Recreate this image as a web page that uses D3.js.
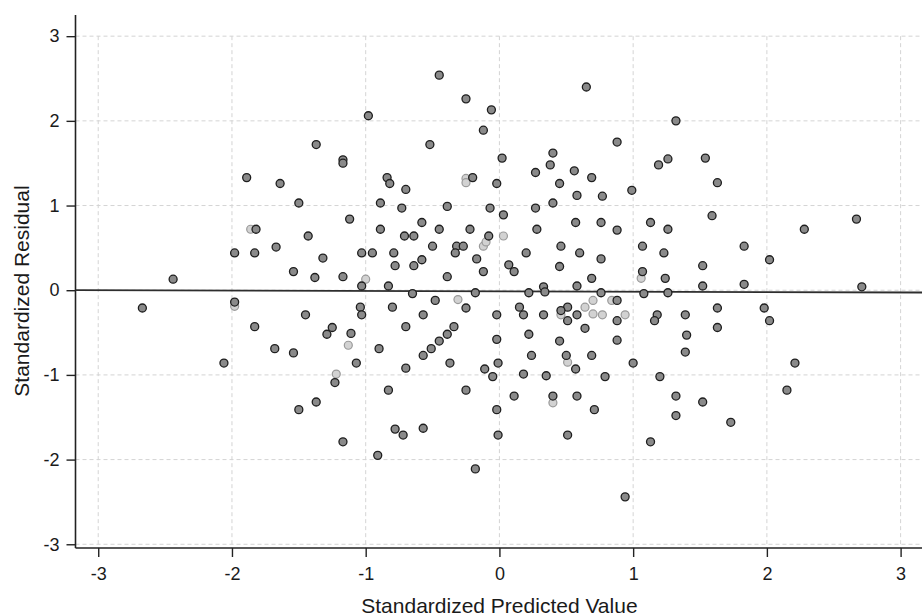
<!DOCTYPE html>
<html>
<head>
<meta charset="utf-8">
<script src="https://cdn.jsdelivr.net/npm/d3@7"></script>
<style>
  html, body { margin: 0; padding: 0; background: #fff; }
  #residualChart { width: 922px; height: 616px; }
  text { font-family: "Liberation Sans", Arial, sans-serif; fill: #1a1a1a; }
</style>
</head>
<body>
<div id="residualChart"></div>
<script>
// standardized predicted value / standardized residual
const predicted = [
    -1.89, -1.64, -1.50, -1.37, -1.17, -1.17, -0.98, -0.84, -0.82, -0.70,
    -0.89, -0.73, -0.52, -0.45, -0.39, -0.25, -0.06, -0.12, -0.20, 0.02,
    -0.02, -0.07, 0.27, 0.40, 0.38, 0.45, 0.56, 0.69, 0.58, 0.77,
    0.40, 0.27, 0.65, 0.88, 0.99, 1.19, 1.26, 1.32, 1.54, 1.63,
    -1.82, -1.98, -1.83, -1.67, -1.43, -1.54, -1.38, -2.44, -2.67, -1.98,
    -1.45, -1.83, -1.68, -1.54, -2.06, -1.37, -1.50, -1.12, -0.89, -0.58,
    -0.45, -0.22, -0.71, -0.64, -0.50, -0.32, -0.27, -0.33, -0.08, -0.17,
    0.03, 0.28, 0.57, 0.76, 0.88, 0.20, 0.46, 0.60, 0.76, 0.07,
    0.11, 0.45, 0.69, -1.03, -0.95, -0.79, -1.32, -0.78, -0.64, -0.58,
    -0.39, -0.12, -1.17, -1.03, -0.83, -0.65, -0.18, 0.22, 0.33, 0.34,
    0.58, 0.76, -0.48, -0.25, -1.04, -1.03, -0.80, -0.57, -0.02, 0.15,
    0.18, 0.33, 0.51, 0.58, 0.51, 0.88, 0.88, -1.25, -1.29, -1.11,
    -0.70, -0.34, -0.39, -0.45, -0.51, -0.57, -0.90, -1.07, -0.70, -0.37,
    -0.02, -0.01, 0.22, 0.45, 0.64, 0.88, 0.24, 0.50, 0.57, 0.69,
    -0.11, -0.05, 0.18, 0.35, 0.79, -1.23, -0.83, -0.25, 0.11, 0.40,
    0.58, -0.02, 0.71, 1.13, 1.26, 1.59, 1.07, 1.23, 1.83, 2.28,
    2.67, 2.02, 1.52, 1.07, 1.24, 1.52, 1.83, 2.71, 1.08, 1.26,
    1.18, 1.16, 1.39, 1.63, 1.98, 2.02, 1.40, 1.63, 1.39, 1.00,
    2.21, 1.20, 1.32, 1.52, 2.15, -1.17, -0.91, -0.78, -0.72, -0.57,
    -0.18, -0.01, 0.51, 1.32, 1.73, 1.13, 0.94, 0.46
];
const residual = [
    1.33, 1.26, 1.03, 1.72, 1.54, 1.50, 2.06, 1.33, 1.26, 1.19,
    1.03, 0.97, 1.72, 2.54, 0.99, 2.26, 2.13, 1.89, 1.33, 1.56,
    1.26, 0.97, 1.39, 1.62, 1.48, 1.26, 1.41, 1.33, 1.12, 1.11,
    1.03, 0.97, 2.40, 1.75, 1.18, 1.48, 1.55, 2.00, 1.56, 1.27,
    0.72, 0.44, 0.44, 0.51, 0.64, 0.22, 0.15, 0.13, -0.21, -0.14,
    -0.29, -0.43, -0.69, -0.74, -0.86, -1.32, -1.41, 0.84, 0.72, 0.80,
    0.72, 0.72, 0.64, 0.64, 0.52, 0.52, 0.52, 0.44, 0.64, 0.37,
    0.89, 0.72, 0.80, 0.80, 0.71, 0.44, 0.52, 0.44, 0.37, 0.30,
    0.22, 0.28, 0.14, 0.44, 0.44, 0.44, 0.38, 0.29, 0.29, 0.36,
    0.16, 0.22, 0.16, 0.05, 0.05, -0.04, -0.03, -0.03, 0.04, -0.02,
    0.05, -0.03, -0.12, -0.21, -0.20, -0.29, -0.20, -0.29, -0.29, -0.20,
    -0.29, -0.29, -0.20, -0.29, -0.36, -0.36, -0.12, -0.44, -0.52, -0.51,
    -0.43, -0.43, -0.52, -0.60, -0.69, -0.77, -0.69, -0.86, -0.92, -0.86,
    -0.58, -0.86, -0.52, -0.60, -0.45, -0.59, -0.77, -0.77, -0.93, -0.77,
    -0.93, -1.02, -0.99, -1.01, -1.02, -1.09, -1.18, -1.18, -1.25, -1.25,
    -1.25, -1.41, -1.41, 0.80, 0.72, 0.88, 0.52, 0.44, 0.52, 0.72,
    0.84, 0.36, 0.29, 0.22, 0.14, 0.05, 0.07, 0.04, -0.04, -0.03,
    -0.29, -0.36, -0.29, -0.21, -0.21, -0.36, -0.53, -0.44, -0.73, -0.86,
    -0.86, -1.02, -1.25, -1.32, -1.18, -1.79, -1.95, -1.64, -1.71, -1.63,
    -2.11, -1.71, -1.71, -1.48, -1.56, -1.79, -2.44, -0.24
];

// faint, washed-out markers
const fadedPredicted = [
    -1.86, -1.98, -0.25, -0.25, -1.00, -0.31, -0.12, -0.10, 0.03, -1.13,
    0.51, -1.22, 0.40, 0.64, 0.70, 0.84, 0.70, 0.77, 0.94, 1.06, 0.46
];
const fadedResidual = [
    0.72, -0.19, 1.32, 1.27, 0.13, -0.11, 0.52, 0.57, 0.64, -0.65,
    -0.85, -0.99, -1.33, -0.20, -0.12, -0.12, -0.28, -0.29, -0.29, 0.14, -0.29
];

// reference line across the plot
const refLineX = [-3.17, 3.16];
const refLineY = [0.0, -0.027];

const tickValues = [-3, -2, -1, 0, 1, 2, 3];

function createResidualChart() {
    const container = d3.select('#residualChart');
    container.selectAll('*').remove();

    const fullWidth = 922;
    const fullHeight = 616;
    const margin = { top: 15, right: 0, bottom: 68, left: 75.5 };
    const width = fullWidth - margin.left - margin.right;
    const height = fullHeight - margin.top - margin.bottom;

    const svg = container.append('svg')
        .attr('width', fullWidth)
        .attr('height', fullHeight);

    const g = svg.append('g')
        .attr('transform', `translate(${margin.left},${margin.top})`);

    const xScale = d3.scaleLinear()
        .domain([-3.17, 3.16])
        .range([0, width]);

    const yScale = d3.scaleLinear()
        .domain([-3.044, 3.25])
        .range([height, 0]);

    // dashed grid
    g.append('g')
        .selectAll('line')
        .data(tickValues)
        .join('line')
        .attr('x1', d => xScale(d))
        .attr('x2', d => xScale(d))
        .attr('y1', yScale(3))
        .attr('y2', height)
        .attr('stroke', '#d4d4d4')
        .attr('stroke-width', 1)
        .attr('stroke-dasharray', '4,3');

    g.append('g')
        .selectAll('line')
        .data(tickValues)
        .join('line')
        .attr('x1', 0)
        .attr('x2', width)
        .attr('y1', d => yScale(d))
        .attr('y2', d => yScale(d))
        .attr('stroke', '#d4d4d4')
        .attr('stroke-width', 1)
        .attr('stroke-dasharray', '4,3');

    // axes
    const xAxis = g.append('g')
        .attr('transform', `translate(0,${height})`)
        .call(d3.axisBottom(xScale)
            .tickValues(tickValues)
            .tickSize(9)
            .tickSizeOuter(0)
            .tickPadding(10)
            .tickFormat(d3.format('d')));

    const yAxis = g.append('g')
        .call(d3.axisLeft(yScale)
            .tickValues(tickValues)
            .tickSize(9)
            .tickSizeOuter(0)
            .tickPadding(7)
            .tickFormat(d3.format('d')));

    [xAxis, yAxis].forEach(ax => {
        ax.select('.domain').attr('stroke', '#222').attr('stroke-width', 1.6);
        ax.selectAll('.tick line').attr('stroke', '#222').attr('stroke-width', 1.4);
        ax.selectAll('.tick text')
            .attr('fill', '#1a1a1a')
            .style('font-size', '18px')
            .style('font-family', '"Liberation Sans", Arial, sans-serif')
            .text(d => d < 0 ? '-' + Math.abs(d) : d);
    });
    // domain for y axis runs to the top of the frame
    yAxis.select('.domain').attr('d', `M0,0V${height}`);
    xAxis.select('.domain').attr('d', `M0,0H${width}`);

    // faded points underneath
    const faded = fadedPredicted.map((x, i) => ({ x, y: fadedResidual[i] }));
    g.append('g')
        .selectAll('circle')
        .data(faded)
        .join('circle')
        .attr('cx', d => xScale(d.x))
        .attr('cy', d => yScale(d.y))
        .attr('r', 4)
        .attr('fill', '#d2d2d2')
        .attr('stroke', '#9a9a9a')
        .attr('stroke-width', 1.2);

    // reference line
    const refLine = refLineX.map((x, i) => ({ x, y: refLineY[i] }));
    g.append('path')
        .datum(refLine)
        .attr('fill', 'none')
        .attr('stroke', '#2e2e2e')
        .attr('stroke-width', 1.8)
        .attr('d', d3.line().x(d => xScale(d.x)).y(d => yScale(d.y)));

    // main points
    const points = predicted.map((x, i) => ({ x, y: residual[i] }));
    g.append('g')
        .selectAll('circle')
        .data(points)
        .join('circle')
        .attr('cx', d => xScale(d.x))
        .attr('cy', d => yScale(d.y))
        .attr('r', 4)
        .attr('fill', '#8a8a8a')
        .attr('stroke', '#1e1e1e')
        .attr('stroke-width', 1.3);

    // axis titles
    g.append('text')
        .attr('x', xScale(0))
        .attr('y', height + 65)
        .style('text-anchor', 'middle')
        .style('font-size', '21px')
        .text('Standardized Predicted Value');

    g.append('text')
        .attr('transform', 'rotate(-90)')
        .attr('x', -(291 - margin.top))
        .attr('y', 28.5 - margin.left)
        .style('text-anchor', 'middle')
        .style('font-size', '21px')
        .text('Standardized Residual');
}

createResidualChart();
</script>
</body>
</html>
